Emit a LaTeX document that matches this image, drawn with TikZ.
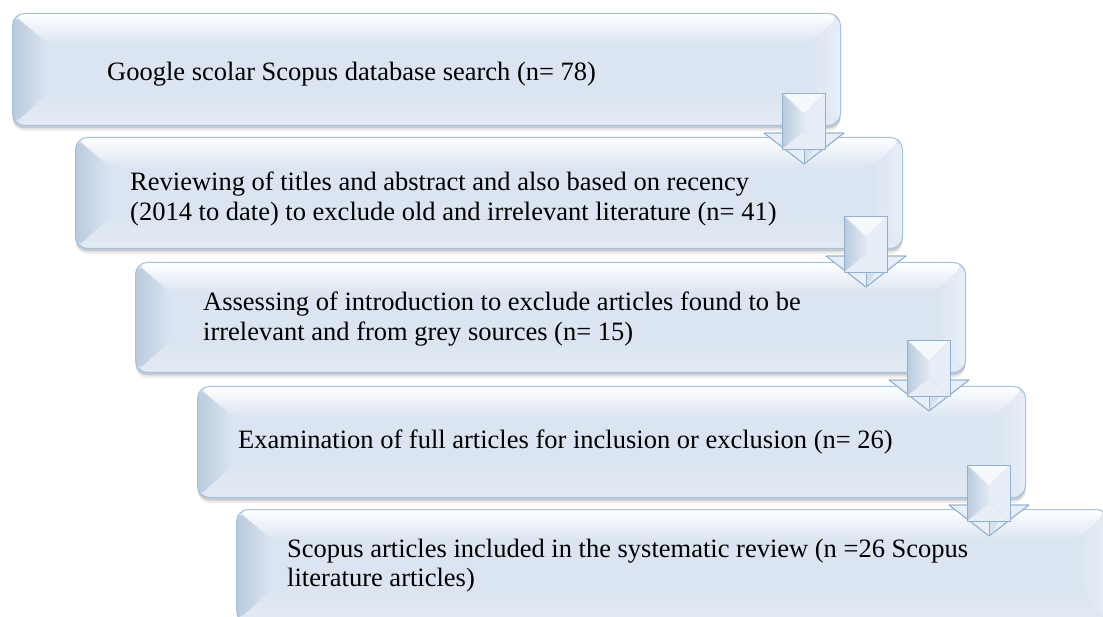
\documentclass[tikz,border=0pt]{standalone}
\usepackage{fontspec}
\setmainfont{Liberation Serif}
\usetikzlibrary{shadows,calc}
\definecolor{boxfill}{HTML}{DBE5F1}
\definecolor{boxline}{HTML}{A3C2E2}
\definecolor{bevdark}{HTML}{BACBDD}
\definecolor{bevlight}{HTML}{E7EEF7}
\definecolor{arrline}{HTML}{8FB0D2}
\tikzset{
  bevelbox/.style={draw=boxline, line width=1pt, rounded corners=12pt, fill=boxfill,
    inner sep=0pt, anchor=north west,
    drop shadow={shadow xshift=0pt, shadow yshift=-5.5pt, opacity=0.12, fill=black!60},
    drop shadow={shadow xshift=0pt, shadow yshift=-3pt, opacity=0.25, fill=black!60},
    path picture={
      \coordinate (nw) at (path picture bounding box.north west);
      \coordinate (ne) at (path picture bounding box.north east);
      \coordinate (sw) at (path picture bounding box.south west);
      \coordinate (se) at (path picture bounding box.south east);
      \shade[left color=bevdark, right color=boxfill]
        (nw) -- ([xshift=36pt,yshift=-32pt]nw) -- ([xshift=36pt,yshift=32pt]sw) -- (sw) -- cycle;
      \shade[left color=boxfill, right color=bevlight]
        (ne) -- ([xshift=-30pt,yshift=-32pt]ne) -- ([xshift=-30pt,yshift=32pt]se) -- (se) -- cycle;
      \shade[top color=white, bottom color=boxfill]
        (nw) -- (ne) -- ([xshift=-30pt,yshift=-30pt]ne) -- ([xshift=36pt,yshift=-30pt]nw) -- cycle;
      \shade[top color=boxfill, bottom color=boxfill!80!white] (sw) -- ([xshift=36pt,yshift=32pt]sw) -- ([xshift=-30pt,yshift=32pt]se) -- (se) -- cycle;
    }},
  boxtext/.style={anchor=base west, inner sep=0pt, font=\fontsize{26.5}{30}\selectfont, text=black},
  arrface/.style={draw=arrline, line width=0.8pt, line join=round}
}
\newcommand{\bevelarrow}[1]{%
  \begin{scope}[shift={($(#1.south east)+(-37,0)$)}]
    % head
    \fill[arrface, fill=bevlight] (-40,7) -- (40,7) -- (0,38) -- cycle;
    \fill[fill=white!40!boxfill] (-21.5,7) -- (0,7) -- (0,38) -- cycle;
    \fill[fill=boxfill!85!bevdark] (0,7) -- (21.5,7) -- (0,38) -- cycle;
    \draw[arrface] (-40,7) -- (40,7) -- (0,38) -- cycle;
    \draw[draw=arrline, line width=0.5pt] (0,23) -- (0,38);
    % shaft
    \shade[left color=bevdark, right color=boxfill!80!white] (-21.5,-33) -- (0,-12) -- (0,5) -- (-21.5,23) -- cycle;
    \fill[bevlight] (21.5,-33) -- (0,-12) -- (0,5) -- (21.5,23) -- cycle;
    \fill[white!75!boxfill] (-21.5,-33) -- (21.5,-33) -- (0,-12) -- cycle;
    \fill[white!30!boxfill] (-21.5,23) -- (0,5) -- (21.5,23) -- cycle;
    \draw[draw=white!60!boxline, line width=0.5pt] (-21.5,-33) -- (0,-12) -- (21.5,-33) (0,-12) -- (0,5) (-21.5,23) -- (0,5) -- (21.5,23);
    \draw[arrface] (-21.5,-33) rectangle (21.5,23);
  \end{scope}}
\begin{document}
\begin{tikzpicture}[x=1pt,y=-1pt]
  \clip (0,0) rectangle (1103,617);
  \fill[white] (0,0) rectangle (1103,617);
  \node[bevelbox, minimum width=828pt, minimum height=112pt] (b1) at (12,13) {};
  \node[bevelbox, minimum width=827pt, minimum height=111pt] (b2) at (75,137) {};
  \node[bevelbox, minimum width=830pt, minimum height=110pt] (b3) at (135,262) {};
  \node[bevelbox, minimum width=828pt, minimum height=111pt] (b4) at (197,386) {};
  \node[bevelbox, minimum width=872pt, minimum height=112pt] (b5) at (236,509) {};
  \node[boxtext] (t1) at (107,81) {Google scolar Scopus database search (n= 78)};
  \node[boxtext] (t2a) at (130,191) {Reviewing of titles and abstract and also based on recency};
  \node[boxtext] (t2b) at (130,221) {(2014 to date) to exclude old and irrelevant literature (n= 41)};
  \node[boxtext] (t3a) at (203,311) {Assessing of introduction to exclude articles found to be};
  \node[boxtext] (t3b) at (203,341) {irrelevant and from grey sources (n= 15)};
  \node[boxtext] (t4) at (238,448) {Examination of full articles for inclusion or exclusion (n= 26)};
  \node[boxtext] (t5a) at (287,557) {Scopus articles included in the systematic review (n =26 Scopus};
  \node[boxtext] (t5b) at (287,586) {literature articles)};
  \bevelarrow{b1}
  \bevelarrow{b2}
  \bevelarrow{b3}
  \bevelarrow{b4}
\end{tikzpicture}
\end{document}
